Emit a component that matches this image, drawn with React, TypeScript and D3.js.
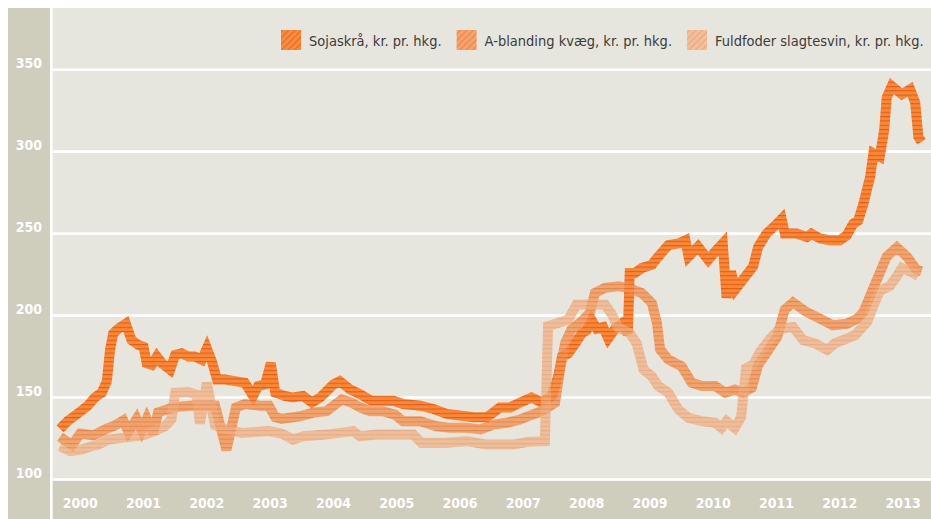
import React, { useEffect, useRef } from "react";
import * as d3 from "d3";

// feed prices, kr. pr. hkg. — [decimal year, value]
const years = [2000, 2001, 2002, 2003, 2004, 2005, 2006, 2007, 2008, 2009, 2010, 2011, 2012, 2013];
const yTicks = [100, 150, 200, 250, 300, 350];
const seriesNames = [
  "Sojaskrå, kr. pr. hkg.",
  "A-blanding kvæg, kr. pr. hkg.",
  "Fuldfoder slagtesvin, kr. pr. hkg.",
];

const sojaskraa: [number, number][] = [
  [2000.0, 131], [2000.13, 136], [2000.24, 139], [2000.34, 142], [2000.44, 145], [2000.55, 150],
  [2000.66, 153], [2000.74, 160], [2000.79, 179], [2000.84, 189], [2000.92, 192], [2001.04, 195],
  [2001.13, 185], [2001.24, 182], [2001.32, 181], [2001.37, 171], [2001.45, 170], [2001.53, 175],
  [2001.61, 171], [2001.74, 167], [2001.82, 176], [2001.92, 177], [2002.03, 175], [2002.13, 175],
  [2002.24, 173], [2002.32, 180], [2002.4, 172], [2002.48, 161], [2002.61, 161], [2002.76, 160],
  [2002.92, 159], [2003.05, 151], [2003.13, 157], [2003.24, 158], [2003.33, 171], [2003.4, 153],
  [2003.55, 151], [2003.68, 150], [2003.84, 151], [2003.98, 147], [2004.11, 150], [2004.32, 158],
  [2004.42, 160], [2004.58, 155], [2004.74, 152], [2004.92, 148], [2005.06, 148], [2005.27, 148],
  [2005.42, 146], [2005.69, 145], [2005.9, 143], [2006.11, 140], [2006.32, 139], [2006.53, 138],
  [2006.74, 138], [2006.85, 141], [2006.95, 144], [2007.11, 144], [2007.27, 147], [2007.45, 150],
  [2007.61, 147], [2007.77, 151], [2007.87, 163], [2007.93, 175], [2008.03, 177], [2008.14, 183],
  [2008.24, 189], [2008.32, 191], [2008.4, 197], [2008.48, 192], [2008.58, 193], [2008.66, 186],
  [2008.77, 192], [2008.87, 195], [2008.97, 189], [2009.0, 226], [2009.08, 226], [2009.19, 229],
  [2009.35, 231], [2009.45, 236], [2009.61, 243], [2009.77, 244], [2009.88, 246], [2009.93, 236],
  [2010.08, 242], [2010.24, 234], [2010.35, 239], [2010.47, 244], [2010.53, 211], [2010.6, 227],
  [2010.67, 216], [2010.79, 222], [2010.95, 230], [2011.03, 242], [2011.16, 250], [2011.3, 255],
  [2011.4, 259], [2011.45, 250], [2011.64, 250], [2011.8, 248], [2011.87, 250], [2012.01, 247],
  [2012.16, 246], [2012.32, 246], [2012.43, 249], [2012.53, 256], [2012.61, 258], [2012.69, 268],
  [2012.8, 285], [2012.85, 299], [2012.95, 297], [2013.02, 313], [2013.06, 333], [2013.14, 340],
  [2013.3, 335], [2013.43, 338], [2013.51, 330], [2013.56, 309], [2013.61, 306],
];

const aBlanding: [number, number][] = [
  [2000.0, 126], [2000.19, 121], [2000.32, 128], [2000.53, 127], [2000.74, 131], [2000.87, 133],
  [2001.0, 136], [2001.08, 129], [2001.21, 137], [2001.29, 130], [2001.37, 137], [2001.47, 128],
  [2001.55, 141], [2001.79, 144], [2002.05, 145], [2002.21, 145], [2002.45, 145], [2002.63, 118],
  [2002.78, 144], [2002.92, 146], [2003.16, 145], [2003.3, 145], [2003.4, 138], [2003.5, 137],
  [2003.79, 138.6], [2004.0, 140.8], [2004.21, 141.7], [2004.31, 144.7], [2004.45, 148.8],
  [2004.6, 147], [2004.74, 143.9], [2004.9, 141.7], [2005.1, 141.7], [2005.29, 139.6],
  [2005.42, 135.6], [2005.69, 135.6], [2005.95, 132.5], [2006.16, 131.5], [2006.42, 131.5],
  [2006.64, 130.5], [2006.85, 133.5], [2007.06, 134.6], [2007.27, 136.6], [2007.4, 138.6],
  [2007.61, 141.7], [2007.82, 146.8], [2007.9, 167], [2007.98, 183.3], [2008.08, 191.5],
  [2008.24, 196.5], [2008.37, 201.6], [2008.45, 213.8], [2008.61, 216.9], [2008.82, 217.9],
  [2008.98, 216.9], [2009.19, 213.8], [2009.35, 207.7], [2009.43, 195.5], [2009.48, 179.3],
  [2009.61, 173.2], [2009.82, 169.1], [2009.98, 159], [2010.14, 157], [2010.35, 157],
  [2010.51, 152.9], [2010.66, 154.9], [2010.79, 153], [2010.93, 156], [2011.03, 170],
  [2011.14, 176], [2011.33, 187], [2011.45, 203.7], [2011.58, 208], [2011.8, 202], [2012.01, 198],
  [2012.21, 194], [2012.43, 195], [2012.59, 198], [2012.69, 202], [2012.84, 216], [2012.95, 226],
  [2013.06, 236], [2013.22, 241.5], [2013.38, 236], [2013.53, 228], [2013.61, 227],
];

const fuldfoder: [number, number][] = [
  [2000.0, 120.3], [2000.16, 117.3], [2000.34, 118.3], [2000.5, 120.3], [2000.61, 121.3],
  [2000.76, 124.4], [2000.98, 125.4], [2001.19, 126.4], [2001.34, 127.4], [2001.5, 129.5],
  [2001.66, 132.5], [2001.76, 136.6], [2001.82, 152.9], [2002.03, 153.2], [2002.16, 151.8],
  [2002.21, 134], [2002.32, 159], [2002.4, 142.7], [2002.45, 133], [2002.66, 130.5],
  [2002.87, 128.4], [2003.29, 129.5], [2003.5, 128], [2003.68, 124.4], [2003.85, 126.4],
  [2004.2, 127.4], [2004.63, 129.5], [2004.74, 126.4], [2005.0, 127.4], [2005.58, 127.4],
  [2005.71, 122.4], [2006.1, 122.4], [2006.42, 123.4], [2006.74, 121.3], [2007.16, 121.3],
  [2007.4, 123], [2007.66, 123.4], [2007.71, 193.5], [2007.87, 195.5], [2008.03, 197.6],
  [2008.16, 206.7], [2008.4, 206.7], [2008.61, 206.7], [2008.72, 200.6], [2008.82, 192.5],
  [2009.0, 189.4], [2009.11, 183], [2009.22, 167], [2009.35, 163], [2009.45, 157], [2009.61, 153],
  [2009.77, 142.7], [2009.93, 137.6], [2010.14, 135.6], [2010.35, 134.6], [2010.45, 131.5],
  [2010.53, 135.6], [2010.66, 131.5], [2010.76, 138], [2010.84, 168], [2010.95, 170],
  [2011.06, 178], [2011.22, 186], [2011.37, 192], [2011.58, 193], [2011.74, 185], [2011.93, 183],
  [2012.12, 179], [2012.24, 183], [2012.37, 185], [2012.56, 188], [2012.75, 196], [2012.84, 205],
  [2012.95, 215], [2013.11, 218], [2013.22, 224], [2013.3, 229], [2013.48, 226], [2013.56, 224],
];

const App = () => {
  const ref = useRef<SVGSVGElement>(null);

  useEffect(() => {
    const width = 931,
      height = 519;
    const plotLeft = 52.7,
      plotTop = 8,
      plotBottom = 480.7;
    const font = "'DejaVu Sans Condensed', 'DejaVu Sans', sans-serif";

    const svg = d3.select(ref.current);
    svg.selectAll("*").remove();

    const x = d3.scaleLinear().domain([2000, 2014]).range([60, 60 + 14 * 63.3]);
    const y = d3.scaleLinear().domain([100, 350]).range([479.5, 69.7]);

    const defs = svg.append("defs");
    const styles = [
      { id: "soja", base: "#fa8636", stripe: "#e05f16", opacity: 1, swatch: "#fa8a3c", swStripe: "#e06a25" },
      { id: "abl", base: "#f5924f", stripe: "#e0702f", opacity: 0.8, swatch: "#f6a26c", swStripe: "#e58448" },
      { id: "fuld", base: "#f2ae7d", stripe: "#e3966a", opacity: 0.72, swatch: "#f4bf98", swStripe: "#e7a67c" },
    ];
    styles.forEach((s) => {
      const p = defs
        .append("pattern")
        .attr("id", "line-" + s.id)
        .attr("patternUnits", "userSpaceOnUse")
        .attr("width", 8)
        .attr("height", 4.3);
      p.append("rect").attr("width", 8).attr("height", 4.3).attr("fill", s.base);
      p.append("rect").attr("y", 0).attr("width", 8).attr("height", 1.1).attr("fill", s.stripe);

      const q = defs
        .append("pattern")
        .attr("id", "sw-" + s.id)
        .attr("patternUnits", "userSpaceOnUse")
        .attr("width", 4.5)
        .attr("height", 4.5)
        .attr("patternTransform", "rotate(45)");
      q.append("rect").attr("width", 4.5).attr("height", 4.5).attr("fill", s.swatch);
      q.append("line")
        .attr("x1", 0.5)
        .attr("y1", 0)
        .attr("x2", 0.5)
        .attr("y2", 4.5)
        .attr("stroke", s.swStripe)
        .attr("stroke-width", 1);
    });

    // backgrounds
    svg.append("rect").attr("width", width).attr("height", height).attr("fill", "#ffffff");
    svg.append("rect").attr("x", 8).attr("y", plotTop).attr("width", 42).attr("height", height - plotTop).attr("fill", "#cfcdbc");
    svg
      .append("rect")
      .attr("x", plotLeft)
      .attr("y", plotTop)
      .attr("width", width - plotLeft)
      .attr("height", plotBottom - plotTop)
      .attr("fill", "#e7e6de");
    svg
      .append("rect")
      .attr("x", plotLeft)
      .attr("y", plotBottom)
      .attr("width", width - plotLeft)
      .attr("height", height - plotBottom)
      .attr("fill", "#cfcdbc");

    // gridlines
    svg
      .append("g")
      .selectAll("line")
      .data(yTicks)
      .enter()
      .append("line")
      .attr("x1", plotLeft)
      .attr("x2", width)
      .attr("y1", (d) => y(d))
      .attr("y2", (d) => y(d))
      .attr("stroke", "#ffffff")
      .attr("stroke-width", 2.6);

    // y labels
    svg
      .append("g")
      .selectAll("text")
      .data(yTicks)
      .enter()
      .append("text")
      .attr("x", 42)
      .attr("y", (d) => y(d) - 2)
      .attr("text-anchor", "end")
      .style("font-family", font)
      .style("font-weight", "bold")
      .style("font-size", "14px")
      .attr("fill", "#ffffff")
      .text((d) => d);

    // x labels
    svg
      .append("g")
      .selectAll("text")
      .data(years)
      .enter()
      .append("text")
      .attr("x", (d) => x(d + 0.32))
      .attr("y", 508)
      .attr("text-anchor", "middle")
      .style("font-family", font)
      .style("font-weight", "bold")
      .style("font-size", "14px")
      .attr("fill", "#ffffff")
      .text((d) => d);

    // lines
    const line = d3
      .line<[number, number]>()
      .x((d) => x(d[0]))
      .y((d) => y(d[1]));
    const allSeries = [sojaskraa, aBlanding, fuldfoder];
    allSeries.forEach((data, i) => {
      svg
        .append("path")
        .datum(data)
        .attr("d", line)
        .attr("fill", "none")
        .attr("stroke", `url(#line-${styles[i].id})`)
        .attr("stroke-width", 10)
        .attr("stroke-linejoin", "miter")
        .attr("stroke-miterlimit", 3)
        .attr("opacity", styles[i].opacity);
    });

    // legend
    const legend = svg.append("g");
    let lx = 281;
    seriesNames.forEach((name, i) => {
      legend
        .append("rect")
        .attr("x", lx)
        .attr("y", 30)
        .attr("width", 20)
        .attr("height", 20)
        .attr("fill", `url(#sw-${styles[i].id})`);
      const t = legend
        .append("text")
        .attr("x", lx + 28)
        .attr("y", 45.5)
        .style("font-family", font)
        .style("font-size", "14.5px")
        .attr("fill", "#3b3b3b")
        .text(name);
      const tw = (t.node() as SVGTextElement).getComputedTextLength();
      lx = lx + 28 + tw + 15;
    });
  }, []);

  return (
    <svg
      ref={ref}
      width={931}
      height={519}
      style={{ position: "absolute", left: 0, top: 0, display: "block" }}
    ></svg>
  );
};

export default App;
